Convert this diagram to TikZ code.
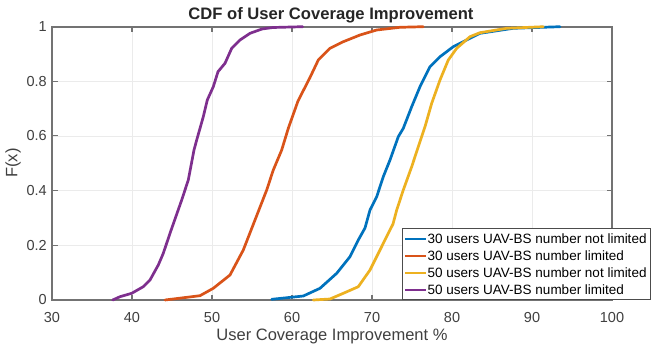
\documentclass[tikz,border=0pt]{standalone}
\usepackage{fontspec}
\setmainfont{Liberation Sans}
\definecolor{mblue}{rgb}{0,0.447,0.741}
\definecolor{morange}{rgb}{0.85,0.325,0.098}
\definecolor{myellow}{rgb}{0.929,0.694,0.125}
\definecolor{mpurple}{rgb}{0.494,0.184,0.556}
\definecolor{axcol}{rgb}{0.45,0.45,0.45}
\definecolor{txtcol}{rgb}{0.25,0.25,0.25}
\definecolor{gridcol}{rgb}{0.92,0.92,0.92}
\begin{document}
\begin{tikzpicture}[x=1pt,y=-1pt,
  curve/.style={line width=2.7pt,line join=round,line cap=round},
  gridline/.style={gridcol,line width=0.6pt},
  axline/.style={axcol,line width=1.1pt},
  ticklab/.style={font=\fontsize{14.5}{16}\selectfont,text=txtcol,inner sep=0pt},
  legtext/.style={font=\fontsize{13.5}{15}\selectfont,text=black,anchor=west,inner sep=0pt},
  legline/.style={line width=2.4pt}]
\useasboundingbox (0,0) rectangle (651,345);
\fill[white] (0,0) rectangle (651,345);
% grid
\foreach \gx in {132,212,292,372,452,532} \draw[gridline] (\gx,27) -- (\gx,300);
\foreach \gy in {245.3,190.6,135.9,81.2} \draw[gridline] (52,\gy) -- (612,\gy);
% axes box and ticks
\draw[axline] (52,27) rectangle (612,300);
\foreach \gx in {132,212,292,372,452,532} {
  \draw[axline] (\gx,300) -- (\gx,294.5);
  \draw[axline] (\gx,27) -- (\gx,32.5);}
\foreach \gy in {245.3,190.6,135.9,81.2} {
  \draw[axline] (52,\gy) -- (57.5,\gy);
  \draw[axline] (612,\gy) -- (606.5,\gy);}
% tick labels
\foreach \v [count=\i from 0] in {30,40,50,60,70,80,90,100}
  \node[ticklab] (xt\i) at (52+80*\i,318) {\v};
\foreach \v [count=\i from 0] in {0,0.2,0.4,0.6,0.8,1}
  \node[ticklab,anchor=east] (yt\i) at (47,300-54.7*\i) {\v};
% labels
\node[font=\fontsize{16.5}{18}\selectfont,text=txtcol,inner sep=0pt] (xlab) at (332,336) {User Coverage Improvement \%};
\node[font=\fontsize{16.5}{18}\selectfont,text=txtcol,inner sep=0pt,rotate=90] (ylab) at (13,163) {F(x)};
\node[font=\fontsize{16.6}{18}\bfseries\selectfont,text=black!85,inner sep=0pt] (title) at (331,15.5) {CDF of User Coverage Improvement};
% curves
\draw[curve,mblue] (271.7,299.3) -- (303.3,296) -- (320,288.3) -- (336.7,273.3) -- (350,256.7) -- (358.3,240) -- (365,228) -- (370,210) -- (376.7,196.7) -- (383.3,176.7) -- (390,160) -- (398.3,136.7) -- (403.3,128.3) -- (411.7,106.7) -- (420,86.7) -- (430,66.7) -- (440,56.7) -- (453.3,46.7) -- (466.7,40) -- (480,33.3) -- (513.3,28.3) -- (560,26.7);
\draw[curve,morange] (165,300) -- (200,295.7) -- (213.3,288.3) -- (230,275) -- (243.3,250) -- (255,220) -- (266.7,190) -- (273.3,170) -- (281.7,150) -- (288.3,128.3) -- (298,101) -- (310,77.5) -- (318.3,60) -- (330,48.3) -- (343.3,41.7) -- (360,35) -- (376.7,30) -- (400,27.3) -- (423.3,26.7);
\draw[curve,myellow] (313.3,300) -- (330,299) -- (343.3,293.3) -- (358.3,286.7) -- (370,270) -- (380,250) -- (388.3,233.3) -- (393,224) -- (396.7,210) -- (403.3,190) -- (411.7,166.7) -- (418.3,146.7) -- (425,126.7) -- (431.7,103.3) -- (440,80) -- (448.3,60) -- (456.7,48.3) -- (470,36.7) -- (480,32.7) -- (506.7,28.3) -- (543.3,26.7);
\draw[curve,mpurple] (112.7,300) -- (120,296.7) -- (131.7,293.3) -- (143.3,286.7) -- (150,280) -- (158.3,265) -- (163.3,253.3) -- (170,233.3) -- (181.7,200) -- (188.3,180) -- (194,150) -- (196.7,140) -- (203.3,116.7) -- (207.3,100) -- (213.3,86.7) -- (218,71.7) -- (225,63.3) -- (231.7,48.3) -- (240,40) -- (250,33.3) -- (262,29) -- (273,27.5) -- (302.7,26.7);
% legend
\draw[fill=white,draw=black!70,line width=0.9pt] (402,228) rectangle (650.5,299.3);
\draw[legline,mblue] (405,239) -- (426,239);
\draw[legline,morange] (405,256) -- (426,256);
\draw[legline,myellow] (405,273) -- (426,273);
\draw[legline,mpurple] (405,290) -- (426,290);
\node[legtext] (l1) at (427.5,239) {30 users UAV-BS number not limited};
\node[legtext] (l2) at (427.5,256) {30 users UAV-BS number limited};
\node[legtext] (l3) at (427.5,273) {50 users UAV-BS number not limited};
\node[legtext] (l4) at (427.5,290) {50 users UAV-BS number limited};
\end{tikzpicture}
\end{document}
